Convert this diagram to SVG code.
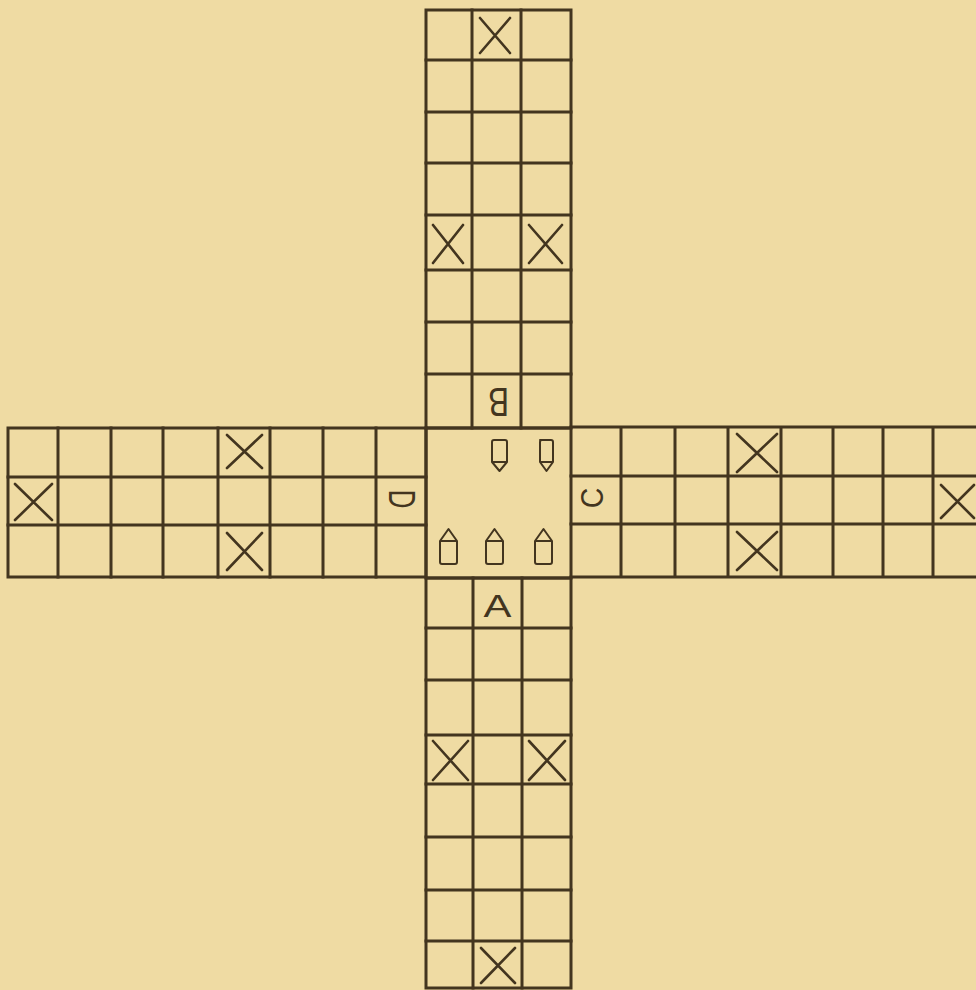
<svg xmlns="http://www.w3.org/2000/svg" width="976" height="990" viewBox="0 0 976 990">
<defs>
<style>
.bg{fill:#efdba3}
.g{fill:none;stroke:#43351f;stroke-width:3;stroke-linecap:square}
.x{fill:none;stroke:#43351f;stroke-width:2.6;stroke-linecap:round}
.p{fill:none;stroke:#43351f;stroke-width:2;stroke-linejoin:round}
.t{font-family:"Liberation Sans",Arial,sans-serif;fill:#43351f;text-anchor:middle}
</style>
</defs>
<rect class="bg" x="0" y="0" width="976" height="990"/>
<g id="top-arm">
<rect class="g" x="426" y="10" width="145" height="418"/>
<path class="g" d="M426,60H571M426,112H571M426,163H571M426,215H571M426,270H571M426,322H571M426,374H571M472,10V428M521,10V428"/>
<path class="x" d="M480,18L510,53M510,18L480,53"/>
<path class="x" d="M433,225L463,263M463,225L433,263"/>
<path class="x" d="M529,225L562,263M562,225L529,263"/>
</g>
<g id="left-arm">
<rect class="g" x="8" y="428" width="418" height="149"/>
<path class="g" d="M8,477H426M8,525H426M58,428V577M111,428V577M163,428V577M218,428V577M270,428V577M323,428V577M376,428V577"/>
<path class="x" d="M227,435L262,468M262,435L227,468"/>
<path class="x" d="M227,533L262,570M262,533L227,570"/>
<path class="x" d="M15,484L52,520M52,484L15,520"/>
</g>
<g id="right-arm">
<path class="g" d="M571,427H976M571,476H976M571,524H976M571,577H976M621,427V577M675,427V577M728,427V577M781,427V577M833,427V577M883,427V577M933,427V577"/>
<path class="x" d="M737,434L777,472M777,434L737,472"/>
<path class="x" d="M737,532L777,570M777,532L737,570"/>
<path class="x" d="M941,485L974,518M974,485L941,518"/>
</g>
<g id="bottom-arm">
<rect class="g" x="426" y="578" width="145" height="410"/>
<path class="g" d="M426,628H571M426,680H571M426,735H571M426,784H571M426,837H571M426,890H571M426,941H571M473,578V988M522,578V988"/>
<path class="x" d="M433,741L468,780M468,741L433,780"/>
<path class="x" d="M529,741L565,780M565,741L529,780"/>
<path class="x" d="M481,948L515,983M515,948L481,983"/>
</g>
<g id="center">
<rect class="g" x="426" y="428" width="145" height="150"/>
<g id="pawns-down">
<path class="p" d="M494,440H505Q507,440 507,442V462L499.5,471L492,462V442Q492,440 494,440ZM492,462H507"/>
<path class="p" d="M540,440H551Q553,440 553,442V462L546.5,471L540,462V442Q540,440 542,440ZM540,462H553"/>
</g>
<g id="pawns-up">
<path class="p" d="M440,541L448.5,529L457,541V562Q457,564 455,564H442Q440,564 440,562ZM440,541H457"/>
<path class="p" d="M486,541L494.5,529L503,541V562Q503,564 501,564H488Q486,564 486,562ZM486,541H503"/>
<path class="p" d="M535,541L543.5,529L552,541V562Q552,564 550,564H537Q535,564 535,562ZM535,541H552"/>
</g>
</g>
<g id="labels">
<text class="t" font-size="31" transform="translate(497.5,606) scale(1.35,1)" y="11.1">A</text>
<text class="t" font-size="40" transform="translate(498.5,402.5) rotate(180) scale(0.78,1)" y="14.3">B</text>
<text class="t" font-size="31" transform="translate(591.5,498) rotate(-90) scale(0.92,1)" y="11.1">C</text>
<text class="t" font-size="37" transform="translate(402,499) rotate(90) scale(0.7,1)" y="13.2">D</text>
</g>
</svg>
